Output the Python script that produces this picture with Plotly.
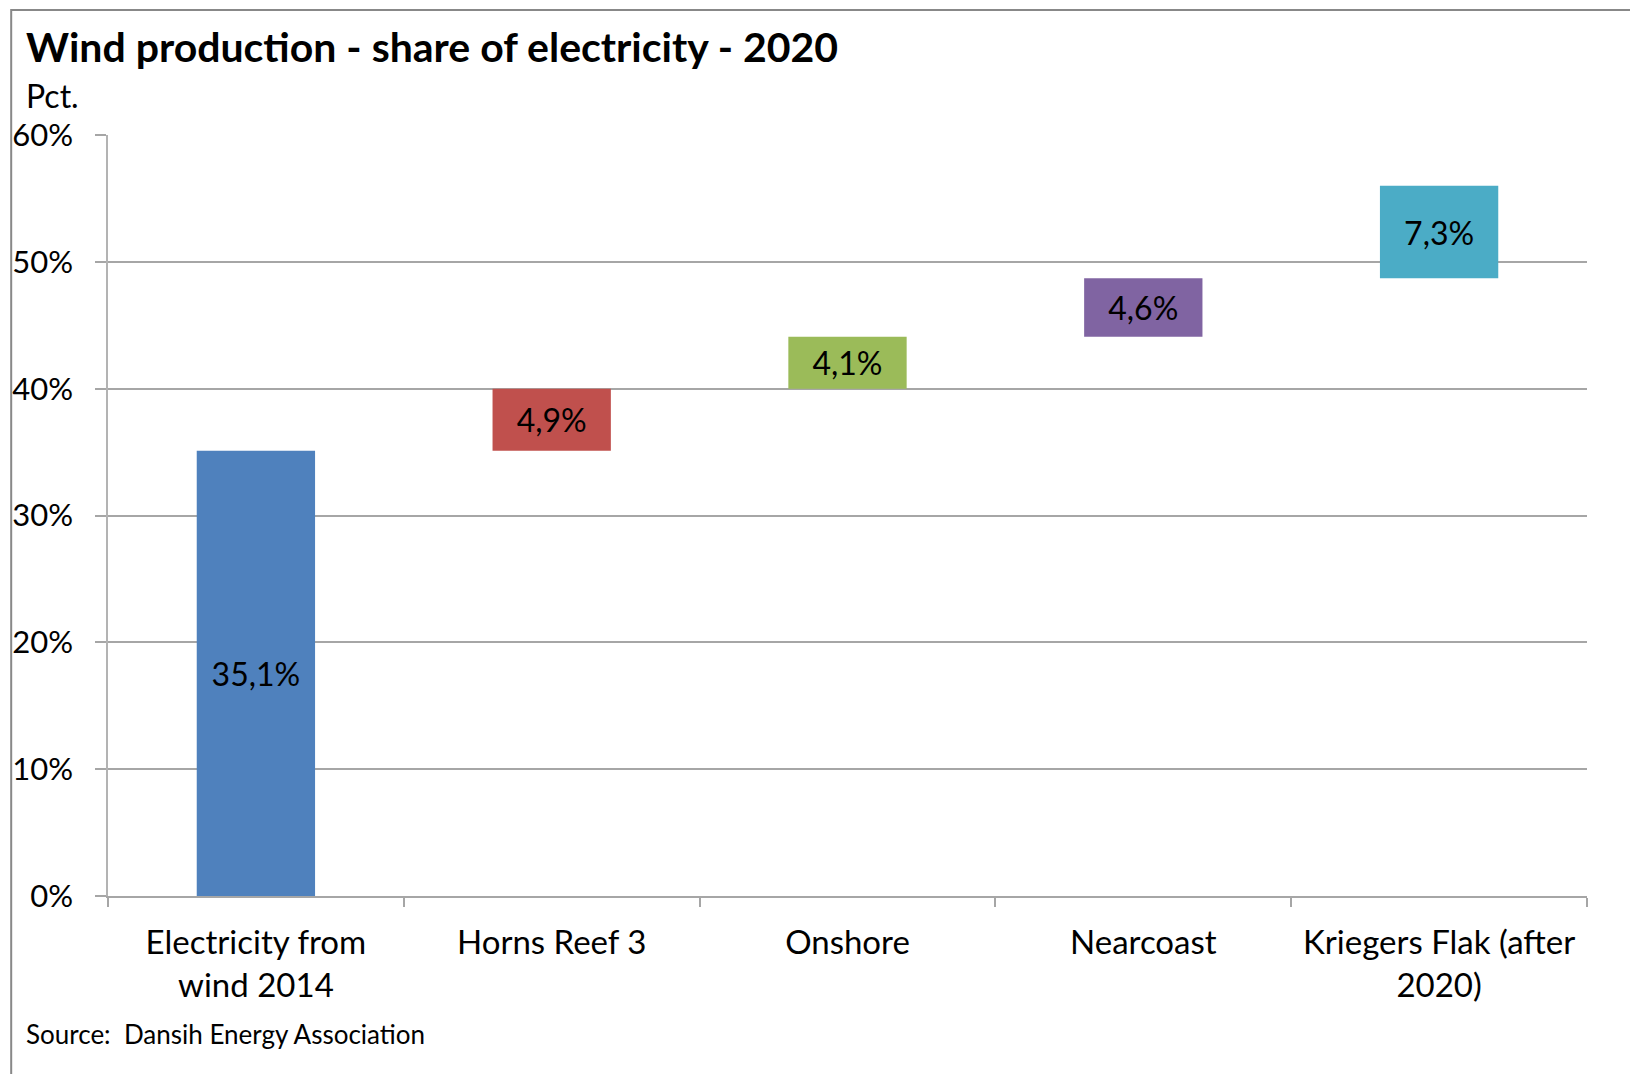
import numpy as np
import plotly.graph_objects as go

categories = ["Electricity from<br>wind 2014", "Horns Reef 3", "Onshore", "Nearcoast", "Kriegers Flak (after<br>2020)"]
values = [35.1, 4.9, 4.1, 4.6, 7.3]
colors = ["#4F81BD", "#C0504D", "#9BBB59", "#8064A2", "#4BACC6"]
y_ticks = [0, 10, 20, 30, 40, 50, 60]
y_ticktext = [f"{t}%" for t in y_ticks]

bases = np.concatenate([[0.0], np.cumsum(values)[:-1]])
labels = [f"{v:.1f}".replace(".", ",") + "%" for v in values]

FONT = "Lato"
W, H = 1630, 1074
L, R, T, B = 105, 43, 135, 178
pw, ph = W - L - R, H - T - B

def px_x(x):
    return (x - L) / pw

def px_y(y):
    return (H - B - y) / ph

fig = go.Figure()
fig.add_trace(go.Bar(
    x=categories, y=values, base=bases,
    marker=dict(color=colors, line=dict(width=0)),
    width=0.4,
    text=labels, textposition="inside", insidetextanchor="middle",
    textangle=0, constraintext="none",
    textfont=dict(family=FONT, size=32, color="black"),
    hoverinfo="skip",
))

fig.update_layout(
    width=W, height=H,
    margin=dict(l=L, r=R, t=T, b=B, pad=0),
    paper_bgcolor="white", plot_bgcolor="white",
    showlegend=False,
    font=dict(family=FONT, color="black"),
    bargap=0.6,
)
fig.update_xaxes(
    type="category",
    tickson="boundaries", ticks="outside", ticklen=9, tickcolor="#A6A6A6", tickwidth=1.5,
    showline=True, linecolor="#A6A6A6", linewidth=1.5,
    showgrid=False,
    tickfont=dict(family=FONT, size=33, color="black"),
    ticklabelstandoff=17,
)
fig.update_yaxes(
    range=[0, 60], tickmode="array", tickvals=y_ticks, ticktext=y_ticktext,
    ticks="outside", ticklen=11, tickcolor="#A6A6A6", tickwidth=1.5,
    showline=True, linecolor="#B3B3B3", linewidth=1.5,
    showgrid=True, gridcolor="#A6A6A6", gridwidth=1.5,
    zeroline=False,
    tickfont=dict(family=FONT, size=31, color="black"),
    ticklabelstandoff=16,
)

fig.add_annotation(text="<b>Wind production - share of electricity - 2020</b>",
                   xref="paper", yref="paper", x=px_x(21), y=px_y(47),
                   xanchor="left", yanchor="middle", showarrow=False,
                   font=dict(family=FONT, size=41, color="black"))
fig.add_annotation(text="Pct.", xref="paper", yref="paper", x=px_x(21), y=px_y(95),
                   xanchor="left", yanchor="middle", showarrow=False,
                   font=dict(family=FONT, size=32, color="black"))
fig.add_annotation(text="Source:  Dansih Energy Association", xref="paper", yref="paper",
                   x=px_x(21), y=px_y(1034), xanchor="left", yanchor="middle", showarrow=False,
                   font=dict(family=FONT, size=26, color="black"))

fig.add_shape(type="rect", xref="paper", yref="paper",
              x0=px_x(8), y0=px_y(10), x1=px_x(1660), y1=px_y(1100),
              line=dict(color="#888888", width=2), fillcolor="rgba(0,0,0,0)", layer="below")

fig.write_html("out.html")
